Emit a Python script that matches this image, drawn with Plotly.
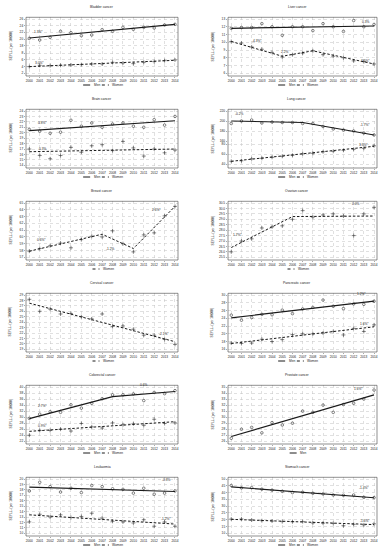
import plotly.graph_objects as go

W, H = 389, 550
YEARS = list(range(2000, 2015))
X0, X1 = 1999.68, 2014.29
FONT = "Liberation Sans"

# ---------------- data ----------------
bladder_men = [20.2, 19.7, 20.5, 22.3, 21.9, 21.0, 21.2, 22.8, 22.3, 23.5, 22.9, 23.5, 23.3, 24.2, 24.4]
bladder_men_fit_x = [2000, 2014]
bladder_men_fit_y = [20.3, 24.4]
bladder_women = [4.0, 4.4, 4.3, 4.4, 4.5, 4.6, 4.8, 4.8, 5.3, 5.1, 4.9, 5.3, 5.5, 5.8, 6.0]
bladder_women_fit_x = [2000, 2014]
bladder_women_fit_y = [4.0, 5.9]

liver_men = [11.8, 11.9, 11.9, 12.4, 12.0, 10.9, 12.0, 12.0, 11.5, 12.4, 12.0, 11.4, 12.8, 12.0, 12.3]
liver_men_fit_x = [2000, 2014]
liver_men_fit_y = [11.8, 12.1]
liver_women = [10.1, 9.9, 9.4, 9.1, 8.7, 8.1, 8.4, 8.6, 8.9, 8.4, 8.2, 8.0, 7.6, 7.5, 7.2]
liver_women_fit_x = [2000, 2005, 2008, 2014]
liver_women_fit_y = [10.1, 8.2, 8.9, 7.2]

brain_men = [20.6, 20.3, 19.9, 20.1, 22.3, 21.2, 21.8, 21.0, 21.6, 21.8, 21.2, 21.0, 22.4, 21.4, 23.0]
brain_men_fit_x = [2000, 2014]
brain_men_fit_y = [20.4, 22.2]
brain_women = [17.0, 15.8, 15.2, 15.8, 17.3, 16.4, 17.6, 17.8, 16.7, 18.4, 17.2, 15.7, 17.0, 16.3, 16.8]
brain_women_fit_x = [2000, 2014]
brain_women_fit_y = [16.5, 17.0]

lung_men = [195, 200, 202, 196, 198, 197, 197, 195, 195, 189, 184, 182, 180, 176, 172]
lung_men_fit_x = [2000, 2007, 2014]
lung_men_fit_y = [200, 197, 172]
lung_women = [46, 47, 51, 52, 54, 56, 58, 61, 62, 65, 66, 68, 70, 72, 77]
lung_women_fit_x = [2000, 2014]
lung_women_fit_y = [46, 76]

breast_women = [57.9, 58.3, 58.7, 59.1, 58.4, 59.6, 60.1, 60.0, 60.9, 59.0, 57.8, 60.3, 60.6, 63.1, 64.5]
breast_women_fit_x = [2000, 2007, 2010, 2014]
breast_women_fit_y = [57.9, 60.4, 58.3, 64.5]

ovarian_women = [26.0, 27.0, 27.2, 28.2, 28.3, 28.4, 29.0, 29.8, 29.2, 29.4, 29.5, 29.3, 27.5, 29.5, 30.1]
ovarian_women_fit_x = [2000, 2006, 2014]
ovarian_women_fit_y = [26.4, 29.25, 29.3]

cervical_women = [28.2, 26.0, 26.4, 25.5, 25.6, 25.0, 24.6, 25.5, 23.2, 23.3, 22.7, 21.6, 21.6, 20.8, 19.9]
cervical_women_fit_x = [2000, 2014]
cervical_women_fit_y = [27.5, 20.4]

pancreatic_men = [24.8, 23.5, 24.2, 25.0, 24.9, 26.1, 25.2, 26.4, 26.8, 28.7, 27.1, 26.5, 27.7, 27.6, 28.4]
pancreatic_men_fit_x = [2000, 2014]
pancreatic_men_fit_y = [24.1, 28.4]
pancreatic_women = [17.6, 17.5, 17.6, 18.6, 18.0, 18.5, 19.8, 20.0, 20.0, 20.2, 20.6, 19.7, 21.4, 20.6, 22.3]
pancreatic_women_fit_x = [2000, 2014]
pancreatic_women_fit_y = [17.5, 21.8]

colorectal_men = [29.6, 31.0, 31.8, 31.6, 34.1, 33.0, 34.6, 36.1, 37.4, 37.4, 37.7, 35.5, 38.2, 37.8, 38.8]
colorectal_men_fit_x = [2000, 2008, 2014]
colorectal_men_fit_y = [29.5, 36.8, 38.5]
colorectal_women = [24.0, 25.6, 25.6, 26.0, 25.4, 27.9, 26.8, 26.4, 28.1, 27.5, 27.8, 27.3, 29.3, 27.9, 28.1]
colorectal_women_fit_x = [2000, 2014]
colorectal_women_fit_y = [25.3, 28.5]

prostate_men = [26.5, 28.0, 28.3, 27.4, 29.1, 28.7, 29.0, 31.0, 30.8, 32.0, 30.8, 32.1, 32.3, 33.0, 34.5]
prostate_men_fit_x = [2000, 2014]
prostate_men_fit_y = [26.8, 33.7]

leukaemia_men = [17.8, 19.4, 18.6, 17.6, 18.3, 17.5, 18.8, 18.6, 18.2, 18.1, 17.4, 18.3, 17.2, 17.4, 17.8]
leukaemia_men_fit_x = [2000, 2014]
leukaemia_men_fit_y = [18.5, 17.7]
leukaemia_women = [12.1, 13.5, 13.0, 13.4, 12.9, 13.1, 13.7, 12.8, 12.2, 12.1, 11.9, 12.5, 11.3, 12.1, 11.3]
leukaemia_women_fit_x = [2000, 2014]
leukaemia_women_fit_y = [13.4, 11.7]

stomach_men = [45.2, 43.5, 43.6, 42.5, 41.8, 40.9, 40.0, 40.2, 39.5, 39.0, 38.2, 38.0, 38.2, 36.5, 36.3]
stomach_men_fit_x = [2000, 2014]
stomach_men_fit_y = [44.2, 36.2]
stomach_women = [20.5, 20.6, 19.8, 19.3, 19.0, 18.6, 18.5, 18.6, 17.6, 17.5, 17.3, 15.6, 16.6, 16.2, 17.0]
stomach_women_fit_x = [2000, 2014]
stomach_women_fit_y = [20.3, 16.4]

# ---------------- helpers ----------------
fig = go.Figure()
layout_axes = {}
shapes = []
annots = []
counter = [0]


def py(p):
    return 1 - p / H


def cont(ticks):
    return [dict(ticks=ticks, top_val=ticks[-1], top_px=19.0,
                 upp=(ticks[-1] - ticks[0]) / 54.3, dom=(17.3, 76.0))]


AX = dict(showgrid=True, gridcolor="#c2c2c2", griddash="dot", gridwidth=0.5,
          zeroline=False, showline=False, ticks="outside", ticklen=1.2,
          tickwidth=0.5, tickcolor="#555",
          tickfont=dict(size=3.2, color="#222", family=FONT))

MSYM = {"men": "circle-open", "women": "cross-thin-open"}
MSIZE = {"men": 2.6, "women": 2.8}


def txt(text, x, y, size=3.2, **kw):
    d = dict(text=text, x=x, y=y, showarrow=False, xanchor="center", yanchor="middle",
             font=dict(size=size, color="#222", family=FONT))
    d.update(kw)
    return d


def add_panel(row, col, title, segments, series, labels, tickfmt=None):
    T = 92 * row
    bl, br = (26, 178) if col == 0 else (228, 377)
    ids = []
    for i, seg in enumerate(segments):
        counter[0] += 1
        n = counter[0]
        s = "" if n == 1 else str(n)
        ids.append(s)
        lo = seg["top_val"] - (seg["dom"][1] - seg["top_px"]) * seg["upp"]
        hi = seg["top_val"] + (seg["top_px"] - seg["dom"][0]) * seg["upp"]
        last = i == len(segments) - 1
        xa = dict(AX, domain=[bl / W, br / W], range=[X0, X1], anchor="y" + s,
                  tickvals=YEARS, showticklabels=last)
        if not last:
            xa["ticks"] = ""
        layout_axes["xaxis" + s] = xa
        ya = dict(AX, domain=[py(T + seg["dom"][1]), py(T + seg["dom"][0])],
                  range=[lo, hi], anchor="x" + s, tickvals=seg["ticks"])
        if tickfmt:
            ya["ticktext"] = [tickfmt(v) for v in seg["ticks"]]
        layout_axes["yaxis" + s] = ya
    for ser in series:
        s = ids[ser["seg"]]
        k = ser["kind"]
        fig.add_trace(go.Scatter(
            x=YEARS, y=ser["vals"], mode="markers", xaxis="x" + s, yaxis="y" + s,
            marker=dict(symbol=MSYM[k], size=MSIZE[k], color="#222",
                        line=dict(width=0.55, color="#222")),
            showlegend=False, hoverinfo="skip"))
        fig.add_trace(go.Scatter(
            x=ser["fx"], y=ser["fy"], mode="lines", xaxis="x" + s, yaxis="y" + s,
            line=dict(color="#1a1a1a", width=1.2 if k == "men" else 1.0,
                      dash="solid" if k == "men" else "2.5px,1.8px"),
            showlegend=False, hoverinfo="skip"))
    for text, lx, ly, si in labels:
        s = ids[si]
        annots.append(txt(text, lx, ly, xref="x" + s, yref="y" + s))
    # frame
    shapes.append(dict(type="rect", xref="paper", yref="paper", x0=bl / W, x1=br / W,
                       y0=py(T + 76), y1=py(T + 17.3), line=dict(color="#444", width=0.6)))
    cx = (bl + br) / 2 if col == 0 else 297
    annots.append(txt(title, cx / W, py(T + 6.7), size=3.4, xref="paper", yref="paper"))
    annots.append(txt("SEYLL<sub>p</sub> (per 10,000)", (bl - 16) / W, py(T + 46.5),
                      xref="paper", yref="paper", textangle=-90))
    # legend
    kinds = [s["kind"] for s in series]
    items = []
    if "men" in kinds:
        items.append(("Men", "solid", 6.2))
    if "women" in kinds:
        items.append(("Women", "dash", 10.5))
    total = sum(7 + 1.5 + w for _, _, w in items) + 4 * (len(items) - 1)
    x = cx - total / 2
    ly = T + 85
    for name, dash, w in items:
        shapes.append(dict(type="line", xref="paper", yref="paper", x0=x / W, x1=(x + 7) / W,
                           y0=py(ly), y1=py(ly),
                           line=dict(color="#1a1a1a", width=1.0,
                                     dash="solid" if dash == "solid" else "dot")))
        annots.append(txt(name, (x + 8.5) / W, py(ly), xref="paper", yref="paper",
                          xanchor="left"))
        x += 7 + 1.5 + w + 4


def M(vals, fx, fy, seg=0):
    return dict(kind="men", vals=vals, fx=fx, fy=fy, seg=seg)


def F(vals, fx, fy, seg=0):
    return dict(kind="women", vals=vals, fx=fx, fy=fy, seg=seg)


# ---------------- panels ----------------
add_panel(0, 0, "Bladder cancer",
          [dict(ticks=[18, 20, 22, 24, 26], top_val=26, top_px=19.0, upp=0.3, dom=(17.3, 48.5)),
           dict(ticks=[2, 4, 6, 8], top_val=8, top_px=53.3, upp=0.3, dom=(50.5, 76.0))],
          [M(bladder_men, bladder_men_fit_x, bladder_men_fit_y, 0),
           F(bladder_women, bladder_women_fit_x, bladder_women_fit_y, 1)],
          [("1.3%*", 2000.9, 22.0, 0), ("3.0%*", 2001.0, 5.0, 1)])

add_panel(0, 1, "Liver cancer", cont(list(range(6, 14))),
          [M(liver_men, liver_men_fit_x, liver_men_fit_y),
           F(liver_women, liver_women_fit_x, liver_women_fit_y)],
          [("0.3%", 2013.2, 12.65, 0), ("-4.3%*", 2002.5, 10.15, 0),
           ("2.2%", 2005.2, 8.8, 0), ("-3.5%*", 2013.1, 7.6, 0)])

add_panel(1, 0, "Brain cancer", cont(list(range(14, 25))),
          [M(brain_men, brain_men_fit_x, brain_men_fit_y),
           F(brain_women, brain_women_fit_x, brain_women_fit_y)],
          [("0.8%*", 2001.3, 21.8, 0), ("0.3%", 2001.3, 17.05, 0)])

add_panel(1, 1, "Lung cancer",
          [dict(ticks=[160, 180, 200, 220], top_val=220, top_px=19.0, upp=2.0, dom=(17.3, 50.0)),
           dict(ticks=[40, 60, 80], top_val=80, top_px=52.3, upp=2.0, dom=(50.8, 76.0))],
          [M(lung_men, lung_men_fit_x, lung_men_fit_y, 0),
           F(lung_women, lung_women_fit_x, lung_women_fit_y, 1)],
          [("-0.2%", 2000.8, 214, 0), ("-1.7%*", 2013.1, 193, 0), ("3.5%*", 2013.0, 78.5, 1)])

add_panel(2, 0, "Breast cancer", cont(list(range(57, 66))),
          [F(breast_women, breast_women_fit_x, breast_women_fit_y)],
          [("0.6%*", 2001.2, 59.5, 0), ("-1.2%", 2007.8, 58.2, 0), ("2.6%*", 2012.2, 64.0, 0)])

add_panel(2, 1, "Ovarian cancer", cont([25.5 + 0.5 * i for i in range(11)]),
          [F(ovarian_women, ovarian_women_fit_x, ovarian_women_fit_y)],
          [("1.7%*", 2000.6, 27.55, 0), ("0.0%", 2012.2, 30.4, 0)],
          tickfmt=lambda v: f"{v:.1f}")

add_panel(3, 0, "Cervical cancer", cont(list(range(19, 30))),
          [F(cervical_women, cervical_women_fit_x, cervical_women_fit_y)],
          [("-2.1%*", 2012.9, 21.9, 0)])

add_panel(3, 1, "Pancreatic cancer", cont(list(range(16, 31, 2))),
          [M(pancreatic_men, pancreatic_men_fit_x, pancreatic_men_fit_y),
           F(pancreatic_women, pancreatic_women_fit_x, pancreatic_women_fit_y)],
          [("1.2%*", 2012.8, 30.3, 0), ("1.6%*", 2013.1, 22.5, 0)])

add_panel(4, 0, "Colorectal cancer", cont(list(range(22, 41, 2))),
          [M(colorectal_men, colorectal_men_fit_x, colorectal_men_fit_y),
           F(colorectal_women, colorectal_women_fit_x, colorectal_women_fit_y)],
          [("2.7%*", 2001.3, 33.8, 0), ("0.6%", 2011.0, 40.5, 0), ("0.9%*", 2001.3, 27.0, 0)])

add_panel(4, 1, "Prostate cancer", cont(list(range(26, 36))),
          [M(prostate_men, prostate_men_fit_x, prostate_men_fit_y)],
          [("1.6%*", 2012.5, 34.7, 0)])

add_panel(5, 0, "Leukaemia", cont(list(range(10, 21))),
          [M(leukaemia_men, leukaemia_men_fit_x, leukaemia_men_fit_y),
           F(leukaemia_women, leukaemia_women_fit_x, leukaemia_women_fit_y)],
          [("-0.3%", 2013.1, 19.9, 0), ("-1.2%*", 2013.1, 12.6, 0)])

add_panel(5, 1, "Stomach cancer", cont(list(range(10, 51, 5))),
          [M(stomach_men, stomach_men_fit_x, stomach_men_fit_y),
           F(stomach_women, stomach_women_fit_x, stomach_women_fit_y)],
          [("-1.4%*", 2013.0, 43.1, 0), ("-1.6%*", 2013.1, 19.1, 0)])

fig.update_layout(width=W, height=H, margin=dict(l=0, r=0, t=0, b=0),
                  paper_bgcolor="white", plot_bgcolor="white",
                  showlegend=False, shapes=shapes, annotations=annots,
                  font=dict(family=FONT, size=3.2, color="#222"), **layout_axes)

fig.write_html("out.html", config={"displayModeBar": False, "staticPlot": True},
               post_script="document.body.style.margin='0';")
